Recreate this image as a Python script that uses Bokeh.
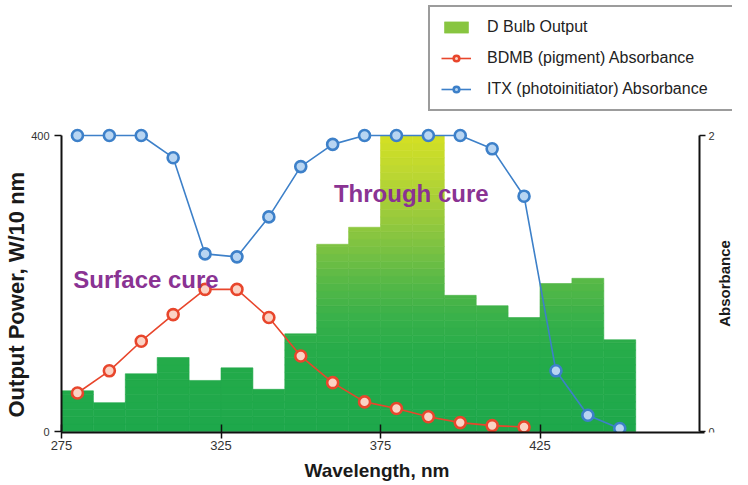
import numpy as np
from math import pi
from bokeh.plotting import figure
from bokeh.models import (Range1d, LinearAxis, FixedTicker, Legend, LegendItem,
                          Label, Title, ColumnDataSource)
from bokeh.embed import file_html
from bokeh.resources import INLINE

# ---------------- data ----------------
bin_centers = [280, 290, 300, 310, 320, 330, 340, 350, 360,
               370, 380, 390, 400, 410, 420, 430, 440, 450]
output_power = [55, 39, 78, 100, 69, 86, 57, 132, 253,
                276, 400, 400, 184, 170, 154, 200, 207, 124]

bdmb_wavelength = [280, 290, 300, 310, 320, 330, 340, 350, 360,
                   370, 380, 390, 400, 410, 420]
bdmb_absorbance = [0.26, 0.41, 0.61, 0.79, 0.96, 0.96, 0.77, 0.51, 0.33,
                   0.20, 0.155, 0.10, 0.06, 0.04, 0.03]

itx_wavelength = [280, 290, 300, 310, 320, 330, 340, 350, 360,
                  370, 380, 390, 400, 410, 420, 430, 440, 450]
itx_absorbance = [2.0, 2.0, 2.0, 1.85, 1.20, 1.18, 1.45, 1.79, 1.94,
                  2.0, 2.0, 2.0, 2.0, 1.91, 1.59, 0.41, 0.11, 0.02]

x_ticks = [275, 325, 375, 425]
power_ticks = [0, 400]
absorbance_ticks = [0, 2]

# ---------------- styles / geometry ----------------
W, H = 748, 485
BORDER_L, BORDER_R, BORDER_B = 61, 16, 53
PX_PER_NM = 3.19
PX_PER_UNIT = 0.74
X_LO = 275.0
X_HI = X_LO + (W - BORDER_L - BORDER_R) / PX_PER_NM
FRAME_H = H - BORDER_B
Y_LO = -1.35
Y_HI = Y_LO + FRAME_H / PX_PER_UNIT
ABS_PER_POWER = 2.0 / 400.0

BAR_WIDTH = 10
BAND = 10
stop_vals = [0, 100, 150, 200, 250, 300, 350, 400]
stop_cols = ["#1ea84b", "#24ab4a", "#36b04a", "#55b847",
             "#7dc242", "#a0cc3a", "#bdd731", "#d4e024"]
RED_LINE, RED_FILL = "#e8462c", "#fbd3c5"
BLUE_LINE, BLUE_FILL = "#3d80c9", "#b8d5f2"
PURPLE = "#8a3393"
INK = "#1a1a1a"
FONT = "Liberation Sans"


def hex2rgb(h):
    return [int(h[i:i + 2], 16) for i in (1, 3, 5)]


stop_rgb = np.array([hex2rgb(c) for c in stop_cols], dtype=float)


def grad_color(v):
    r, g, b = (np.interp(v, stop_vals, stop_rgb[:, k]) for k in range(3))
    return "#%02x%02x%02x" % (int(round(r)), int(round(g)), int(round(b)))


# gradient bars: every bar split into horizontal bands
bx, bb, bt, bc = [], [], [], []
for xc, h in zip(bin_centers, output_power):
    lo = 0
    while lo < h:
        hi = min(lo + BAND, h)
        bx.append(xc)
        bb.append(lo)
        bt.append(hi)
        bc.append(grad_color((lo + hi) / 2.0))
        lo += BAND
bars_src = ColumnDataSource(dict(x=bx, bottom=bb, top=bt, color=bc))
legend_index = int(np.argmin([abs((b + t) / 2 - 265) for b, t in zip(bb, bt)]))

# ---------------- figure ----------------
p = figure(width=W, height=H, x_range=Range1d(X_LO, X_HI),
           y_range=Range1d(Y_LO, Y_HI), output_backend="svg",
           toolbar_location=None, min_border_left=BORDER_L,
           min_border_right=BORDER_R, min_border_top=0,
           min_border_bottom=BORDER_B)
p.extra_y_ranges = {"abs": Range1d(Y_LO * ABS_PER_POWER, Y_HI * ABS_PER_POWER)}
p.outline_line_color = None
p.xgrid.visible = False
p.ygrid.visible = False
p.background_fill_color = "white"

bars = p.vbar(x="x", width=BAR_WIDTH, bottom="bottom", top="top",
              fill_color="color", line_color="color", line_width=0.6,
              source=bars_src)

red_line = p.line(bdmb_wavelength, bdmb_absorbance, y_range_name="abs",
                  line_color=RED_LINE, line_width=1.6)
red_pts = p.scatter(bdmb_wavelength, bdmb_absorbance, y_range_name="abs",
                    size=11, fill_color=RED_FILL, line_color=RED_LINE,
                    line_width=2.6)
blue_line = p.line(itx_wavelength, itx_absorbance, y_range_name="abs",
                   line_color=BLUE_LINE, line_width=1.6)
blue_pts = p.scatter(itx_wavelength, itx_absorbance, y_range_name="abs",
                     size=11, fill_color=BLUE_FILL, line_color=BLUE_LINE,
                     line_width=2.6)


def style_axis(ax, tick_in, tick_out, size, standoff):
    ax.axis_line_color = "#111111"
    ax.axis_line_width = 2
    ax.major_tick_line_color = "#111111"
    ax.major_tick_line_width = 1.5
    ax.major_tick_in = tick_in
    ax.major_tick_out = tick_out
    ax.minor_tick_line_color = None
    ax.major_label_text_font = FONT
    ax.major_label_text_font_size = size
    ax.major_label_text_color = "#333333"
    ax.major_label_standoff = standoff


# ---------------- axes ----------------
xa = p.xaxis[0]
xa.ticker = FixedTicker(ticks=x_ticks)
xa.bounds = (275, 476.5)
style_axis(xa, 8, 6, "13px", 2)

ya = p.yaxis[0]
ya.ticker = FixedTicker(ticks=power_ticks)
ya.bounds = (0, 400)
style_axis(ya, 0, 7, "11px", 5)

ra = LinearAxis(y_range_name="abs", ticker=FixedTicker(ticks=absorbance_ticks),
                bounds=(0, 2))
style_axis(ra, 0, 6, "11px", 3)
ra.fixed_location = 475
p.add_layout(ra, "right")


def side_title(text, size, align, offset, standoff):
    t = Title(text=text, align=align, offset=offset, text_font=FONT,
              text_font_size=size, text_font_style="bold", text_color=INK)
    if "standoff" in t.properties():
        t.standoff = standoff
    return t


p.add_layout(side_title("Output Power, W/10 nm", "22px", "left", 15, 0), "left")
p.add_layout(side_title("Wavelength, nm", "19px", "left", 243, 10), "below")

p.add_layout(Label(x=475, y=200, x_offset=25, text="Absorbance",
                   angle=pi / 2, text_align="center", text_baseline="middle",
                   text_font=FONT, text_font_size="15px", text_font_style="bold",
                   text_color=INK))

# region annotations
p.add_layout(Label(x=278.7, y=206, text="Surface cure", text_align="left",
                   text_baseline="alphabetic", text_font=FONT,
                   text_font_size="24px", text_font_style="bold",
                   text_color=PURPLE))
p.add_layout(Label(x=360.4, y=321, text="Through cure", text_align="left",
                   text_baseline="alphabetic", text_font=FONT,
                   text_font_size="24px", text_font_style="bold",
                   text_color=PURPLE))

# ---------------- legend ----------------
legend = Legend(items=[
    LegendItem(label="D Bulb Output", renderers=[bars], index=legend_index),
    LegendItem(label="BDMB (pigment) Absorbance", renderers=[red_line, red_pts]),
    LegendItem(label="ITX (photoinitiator) Absorbance", renderers=[blue_line, blue_pts]),
], location=(367, 321))
legend.margin = 0
legend.padding = 11
legend.spacing = 13
legend.glyph_width = 30
legend.glyph_height = 14
legend.label_height = 17
legend.label_standoff = 16
legend.label_width = 235
legend.label_text_font = FONT
legend.label_text_font_size = "16px"
legend.label_text_color = "#222222"
legend.border_line_color = "#3a3a3a"
legend.border_line_width = 2
legend.background_fill_color = "white"
legend.background_fill_alpha = 1.0
p.add_layout(legend)

open("out.html", "w").write(file_html(p, INLINE))
